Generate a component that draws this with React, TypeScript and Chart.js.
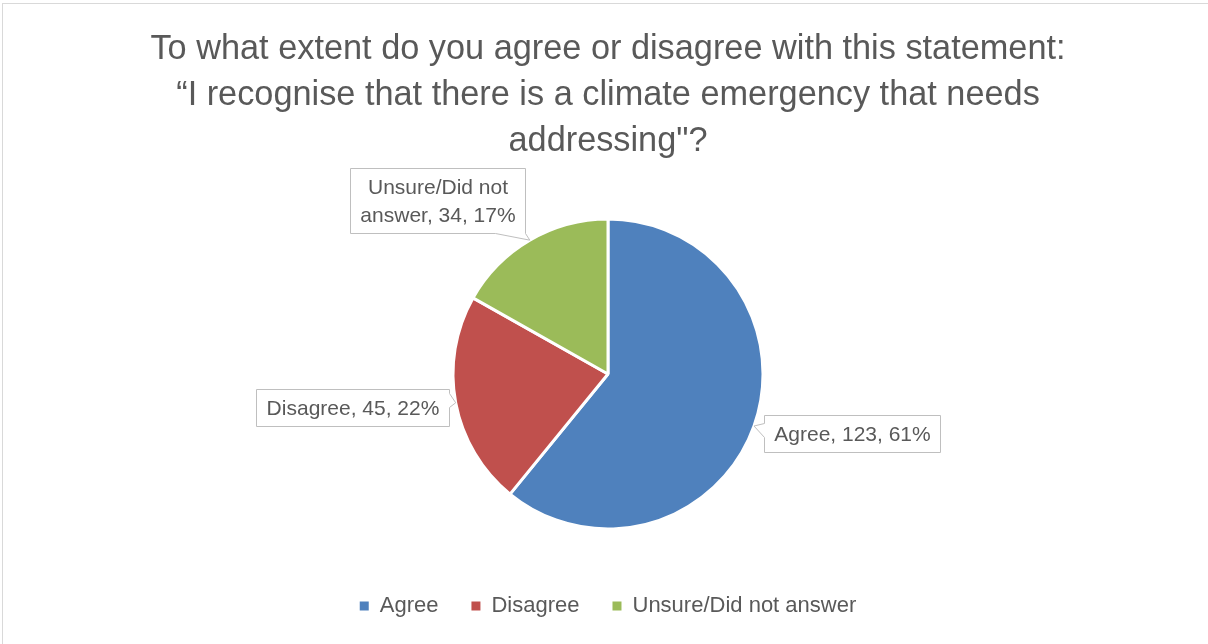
import React, { useEffect, useRef } from 'react';
import { Chart, registerables } from 'chart.js';

Chart.register(...registerables);

// ---- data ----
const categories = ['Agree', 'Disagree', 'Unsure/Did not answer'];
const counts = [123, 45, 34];
const sliceColors = ['#4F81BD', '#C0504D', '#9BBB59'];
const titleLines = [
  'To what extent do you agree or disagree with this statement:',
  '\u201CI recognise that there is a climate emergency that needs',
  'addressing"?',
];

// ---- style ----
const FONT = '"Liberation Sans", Arial, sans-serif';
const TEXT = '#595959';
const LABEL_SIZE = 21;
const LABEL_LINE = 28;
const LABEL_PADV = 4.5;
const LABEL_PADH = 10;
const LABEL_MAXW = 180;

// how each callout box sits relative to the slice tip
const calloutPlacement = [
  { side: 'right', dx: 10, dy: -11 },
  { side: 'left', dx: -7, dy: -14 },
  { side: 'above', dx: -5, dy: -7 },
];

function wrap(ctx: CanvasRenderingContext2D, text: string, maxW: number): string[] {
  if (ctx.measureText(text).width <= maxW) return [text];
  const words = text.split(' ');
  const lines: string[] = [];
  let cur = '';
  for (const w of words) {
    const test = cur ? cur + ' ' + w : w;
    if (cur && ctx.measureText(test).width > maxW - 20) {
      lines.push(cur);
      cur = w;
    } else cur = test;
  }
  if (cur) lines.push(cur);
  return lines;
}

const calloutPlugin = {
  id: 'callouts',
  afterDatasetsDraw(chart: any) {
    const ctx: CanvasRenderingContext2D = chart.ctx;
    const meta = chart.getDatasetMeta(0);
    const data = chart.data.datasets[0].data as number[];
    const total = data.reduce((a, b) => a + b, 0);
    ctx.save();
    ctx.font = `${LABEL_SIZE}px ${FONT}`;
    meta.data.forEach((arc: any, i: number) => {
      const { x, y, startAngle, endAngle, outerRadius } = arc.getProps(
        ['x', 'y', 'startAngle', 'endAngle', 'outerRadius'],
        true
      );
      const mid = (startAngle + endAngle) / 2;
      const tip = { x: x + Math.cos(mid) * outerRadius, y: y + Math.sin(mid) * outerRadius };
      const pct = Math.round((data[i] / total) * 100);
      const text = `${chart.data.labels[i]}, ${data[i]}, ${pct}%`;
      const lines = wrap(ctx, text, LABEL_MAXW);
      const tw = Math.max(...lines.map((l) => ctx.measureText(l).width));
      const w = Math.round(tw + LABEL_PADH * 2);
      const h = Math.round(lines.length * LABEL_LINE + LABEL_PADV * 2);
      const p = calloutPlacement[i];
      let l = 0, t = 0;
      if (p.side === 'right') {
        l = tip.x + p.dx;
        t = tip.y + p.dy;
      } else if (p.side === 'left') {
        l = tip.x + p.dx - w;
        t = tip.y + p.dy;
      } else {
        l = tip.x + p.dx - w;
        t = tip.y + p.dy - h;
      }
      l = Math.round(l) + 0.5;
      t = Math.round(t) + 0.5;
      const r = l + w;
      const b = t + h;
      ctx.beginPath();
      if (p.side === 'right') {
        ctx.moveTo(l, t);
        ctx.lineTo(r, t);
        ctx.lineTo(r, b);
        ctx.lineTo(l, b);
        ctx.lineTo(l, t + 22);
        ctx.lineTo(tip.x, tip.y);
        ctx.lineTo(l, t + 8);
        ctx.closePath();
      } else if (p.side === 'left') {
        ctx.moveTo(l, t);
        ctx.lineTo(r, t);
        ctx.lineTo(r, t + 4);
        ctx.lineTo(tip.x, tip.y);
        ctx.lineTo(r, t + 18);
        ctx.lineTo(r, b);
        ctx.lineTo(l, b);
        ctx.closePath();
      } else {
        ctx.moveTo(l, t);
        ctx.lineTo(r, t);
        ctx.lineTo(r, b);
        ctx.lineTo(tip.x, tip.y);
        ctx.lineTo(r - 30, b);
        ctx.lineTo(l, b);
        ctx.closePath();
      }
      ctx.fillStyle = '#FFFFFF';
      ctx.fill();
      ctx.strokeStyle = '#BFBFBF';
      ctx.lineWidth = 1;
      ctx.stroke();
      ctx.fillStyle = TEXT;
      ctx.textAlign = 'center';
      ctx.textBaseline = 'middle';
      lines.forEach((line, k) => {
        ctx.fillText(line, (l + r) / 2, t + LABEL_PADV + LABEL_LINE * (k + 0.5) + 1);
      });
    });
    ctx.restore();
  },
};

const framePlugin = {
  id: 'frame',
  beforeDraw(chart: any) {
    const ctx: CanvasRenderingContext2D = chart.ctx;
    ctx.save();
    ctx.fillStyle = '#FFFFFF';
    ctx.fillRect(0, 0, chart.width, chart.height);
    ctx.strokeStyle = '#D9D9D9';
    ctx.lineWidth = 1;
    ctx.strokeRect(2.5, 3.5, chart.width + 10, chart.height + 10);
    ctx.restore();
  },
};

export default function App() {
  const ref = useRef<HTMLCanvasElement | null>(null);
  useEffect(() => {
    if (!ref.current) return;
    const chart = new Chart(ref.current, {
      type: 'pie',
      data: {
        labels: categories,
        datasets: [
          {
            data: counts,
            backgroundColor: sliceColors,
            borderColor: '#FFFFFF',
            borderWidth: 3,
            radius: 155,
          } as any,
        ],
      },
      options: {
        animation: false,
        responsive: false,
        devicePixelRatio: 1,
        events: [],
        layout: { padding: { left: 8, right: 0, top: 0, bottom: 17 } },
        plugins: {
          tooltip: { enabled: false },
          title: {
            display: true,
            text: titleLines,
            color: TEXT,
            font: { family: FONT, size: 34.3, weight: 'normal', lineHeight: 46 / 34.3 },
            padding: { top: 27, bottom: 21 },
          },
          legend: {
            position: 'bottom',
            labels: {
              boxWidth: 9,
              boxHeight: 9,
              padding: 33,
              color: TEXT,
              font: { family: FONT, size: 22 },
              generateLabels: (c: any) =>
                (Chart as any).overrides.pie.plugins.legend.labels
                  .generateLabels(c)
                  .map((it: any) => ({ ...it, lineWidth: 0, strokeStyle: it.fillStyle })),
            },
          },
        },
      } as any,
      plugins: [framePlugin, calloutPlugin],
    });
    return () => chart.destroy();
  }, []);
  return (
    <div style={{ position: 'fixed', left: 0, top: 0, width: 1208, height: 644, background: '#fff' }}>
      <canvas ref={ref} width={1208} height={644} style={{ display: 'block' }} />
    </div>
  );
}
